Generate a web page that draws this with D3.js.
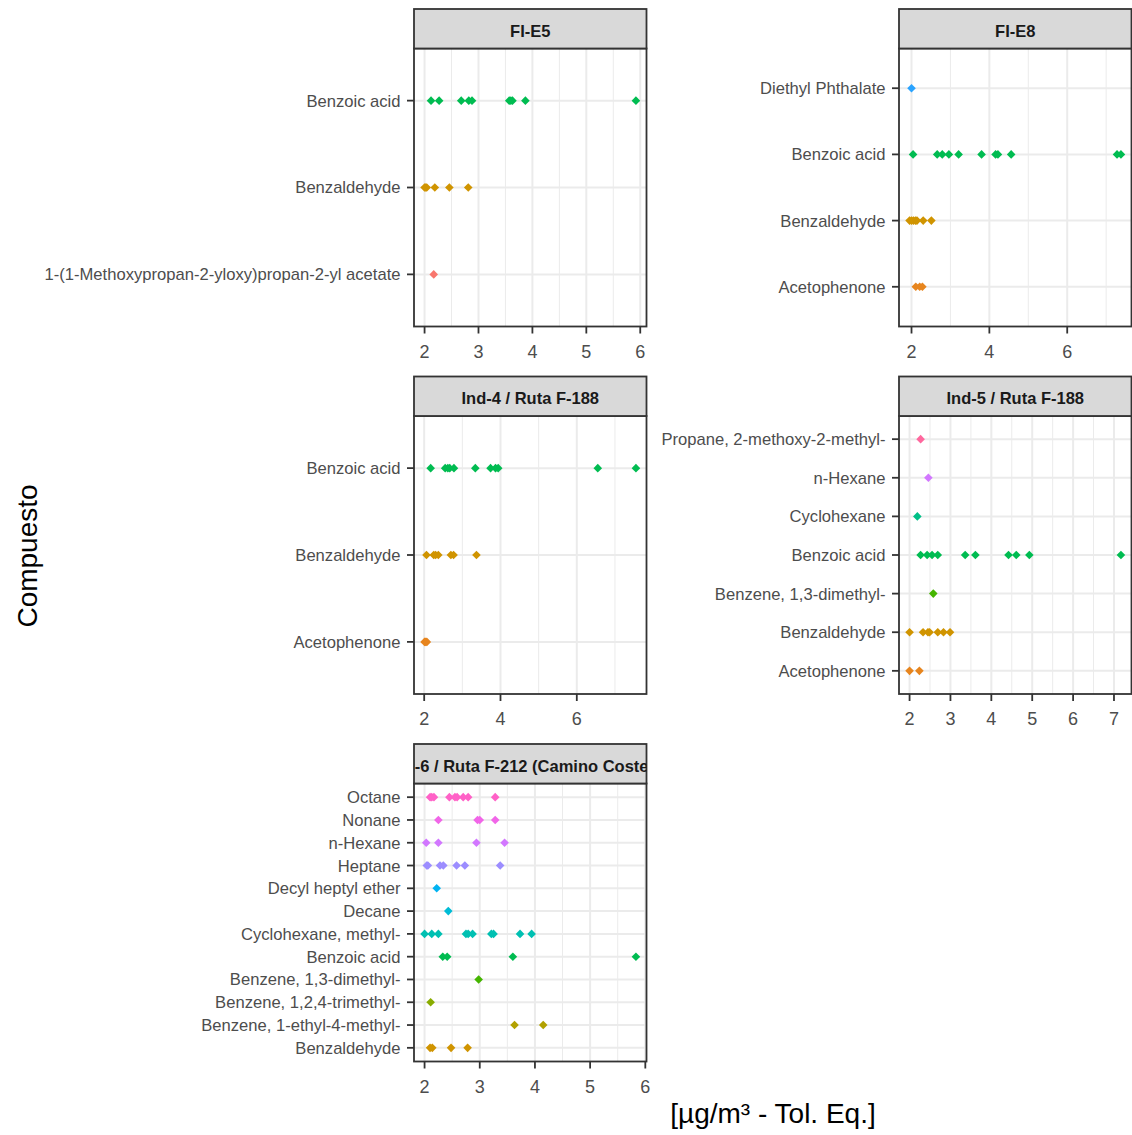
<!DOCTYPE html>
<html>
<head>
<meta charset="utf-8">
<script src="https://cdn.jsdelivr.net/npm/d3@7"></script>
<style>
  body { margin: 0; background: #fff; }
  svg { display: block; font-family: "Liberation Sans", Arial, sans-serif; }
</style>
</head>
<body>
<svg id="chart" width="1132" height="1135"></svg>
<script>
// all compounds, in the order ggplot assigns the hue palette
const compounds = [
  '1-(1-Methoxypropan-2-yloxy)propan-2-yl acetate', 'Acetophenone', 'Benzaldehyde',
  'Benzene, 1-ethyl-4-methyl-', 'Benzene, 1,2,4-trimethyl-', 'Benzene, 1,3-dimethyl-',
  'Benzoic acid', 'Cyclohexane', 'Cyclohexane, methyl-', 'Decane', 'Decyl heptyl ether',
  'Diethyl Phthalate', 'Heptane', 'n-Hexane', 'Nonane', 'Octane', 'Propane, 2-methoxy-2-methyl-'
];

const panelNames = ['FI-E5', 'FI-E8', 'Ind-4 / Ruta F-188', 'Ind-5 / Ruta F-188', 'Ind-6 / Ruta F-212 (Camino Costero)'];

// rows listed top to bottom as drawn
const fiE5 = [
  ['Benzoic acid', [2.12, 2.27, 2.68, 2.82, 2.88, 3.57, 3.6, 3.63, 3.87, 5.92]],
  ['Benzaldehyde', [2.0, 2.02, 2.04, 2.19, 2.46, 2.81]],
  ['1-(1-Methoxypropan-2-yloxy)propan-2-yl acetate', [2.17]]
];
const fiE8 = [
  ['Diethyl Phthalate', [2.0]],
  ['Benzoic acid', [2.04, 2.66, 2.79, 2.96, 3.21, 3.8, 4.16, 4.22, 4.56, 7.28, 7.38]],
  ['Benzaldehyde', [1.95, 2.0, 2.05, 2.1, 2.14, 2.3, 2.51]],
  ['Acetophenone', [2.11, 2.21, 2.28]]
];
const ind4 = [
  ['Benzoic acid', [2.17, 2.55, 2.62, 2.67, 2.78, 3.34, 3.74, 3.87, 3.94, 6.55, 7.55]],
  ['Benzaldehyde', [2.06, 2.25, 2.3, 2.37, 2.7, 2.77, 3.37]],
  ['Acetophenone', [2.01, 2.04, 2.07]]
];
const ind5 = [
  ['Propane, 2-methoxy-2-methyl-', [2.27]],
  ['n-Hexane', [2.46]],
  ['Cyclohexane', [2.19]],
  ['Benzoic acid', [2.27, 2.43, 2.55, 2.69, 3.36, 3.61, 4.42, 4.61, 4.93, 7.17]],
  ['Benzene, 1,3-dimethyl-', [2.58]],
  ['Benzaldehyde', [2.0, 2.33, 2.45, 2.49, 2.69, 2.83, 2.99]],
  ['Acetophenone', [2.0, 2.24]]
];
const ind6 = [
  ['Octane', [2.1, 2.13, 2.17, 2.45, 2.55, 2.59, 2.7, 2.79, 3.28]],
  ['Nonane', [2.25, 2.96, 3.0, 3.28]],
  ['n-Hexane', [2.03, 2.25, 2.94, 3.45]],
  ['Heptane', [2.04, 2.06, 2.28, 2.34, 2.58, 2.73, 3.37]],
  ['Decyl heptyl ether', [2.22]],
  ['Decane', [2.43]],
  ['Cyclohexane, methyl-', [2.0, 2.13, 2.25, 2.75, 2.79, 2.87, 3.21, 3.25, 3.73, 3.94]],
  ['Benzoic acid', [2.33, 2.41, 3.6, 5.83]],
  ['Benzene, 1,3-dimethyl-', [2.98]],
  ['Benzene, 1,2,4-trimethyl-', [2.11]],
  ['Benzene, 1-ethyl-4-methyl-', [3.63, 4.15]],
  ['Benzaldehyde', [2.1, 2.14, 2.48, 2.78]]
];

const fiE5Ticks = [2, 3, 4, 5, 6];
const fiE8Ticks = [2, 4, 6];
const ind4Ticks = [2, 4, 6];
const ind5Ticks = [2, 3, 4, 5, 6, 7];
const ind6Ticks = [2, 3, 4, 5, 6];

const xTitle = '[µg/m³ - Tol. Eq.]';
const yTitle = 'Compuesto';

// R's hcl() (polar CIE-Luv) -> hex, like scales::hue_pal
function hclLuv(h, c, l) {
  const hr = h * Math.PI / 180;
  const U = c * Math.cos(hr), V = c * Math.sin(hr);
  const Xn = 95.047, Yn = 100, Zn = 108.883;
  const den = Xn + 15 * Yn + 3 * Zn;
  const un = 4 * Xn / den, vn = 9 * Yn / den;
  const Y = Yn * (l > 8 ? Math.pow((l + 16) / 116, 3) : l / 903.3);
  const u = U / (13 * l) + un, v = V / (13 * l) + vn;
  const X = 9 * Y * u / (4 * v);
  const Z = 3 * Y / v - 5 * Y - X / 3;
  const x = X / 100, y = Y / 100, z = Z / 100;
  const lin = [
    3.240479 * x - 1.537150 * y - 0.498535 * z,
    -0.969256 * x + 1.875992 * y + 0.041556 * z,
    0.055648 * x - 0.204043 * y + 1.057311 * z
  ];
  const g = lin.map(t => {
    const s = t <= 0.0031308 ? 12.92 * t : 1.055 * Math.pow(t, 1 / 2.4) - 0.055;
    return Math.round(Math.max(0, Math.min(1, s)) * 255);
  });
  return d3.rgb(g[0], g[1], g[2]).formatHex();
}

const n = compounds.length;
const color = d3.scaleOrdinal()
  .domain(compounds)
  .range(compounds.map((_, i) => hclLuv(15 + i * 360 / n, 100, 65)));

const panels = [
  { name: panelNames[0], rows: fiE5, ticks: fiE5Ticks, col: 0, row: 0 },
  { name: panelNames[1], rows: fiE8, ticks: fiE8Ticks, col: 1, row: 0 },
  { name: panelNames[2], rows: ind4, ticks: ind4Ticks, col: 0, row: 1 },
  { name: panelNames[3], rows: ind5, ticks: ind5Ticks, col: 1, row: 1 },
  { name: panelNames[4], rows: ind6, ticks: ind6Ticks, col: 0, row: 2 }
];

const colX = [414, 899];
const rowY = [9, 376.5, 744];
const panelW = 232.5;
const stripH = 39.5;
const plotH = 278;
const tickLen = 7;
const dark = '#333333';
const grid = '#EBEBEB';

const svg = d3.select('#chart');
const defs = svg.append('defs');

const diamond = r => `M0,${-r}L${r},0L0,${r}L${-r},0Z`;

panels.forEach((p, pi) => {
  const left = colX[p.col];
  const top = rowY[p.row] + stripH;
  const right = left + panelW;
  const bottom = top + plotH;

  const all = p.rows.flatMap(r => r[1]);
  const [lo, hi] = d3.extent(all);
  const pad = (hi - lo) * 0.05;
  const x = d3.scaleLinear().domain([lo - pad, hi + pad]).range([left, right]);
  const y = d3.scalePoint()
    .domain(p.rows.map(r => r[0]))
    .range([top, bottom])
    .padding(0.6);

  const g = svg.append('g').attr('class', 'panel');

  // minor grid: midpoints of the (extended) major breaks
  const step = p.ticks[1] - p.ticks[0];
  const ext = [p.ticks[0] - step, ...p.ticks, p.ticks[p.ticks.length - 1] + step];
  const minor = d3.pairs(ext).map(([a, b]) => (a + b) / 2)
    .filter(v => v > x.domain()[0] && v < x.domain()[1]);

  g.selectAll('line.minor').data(minor).join('line')
    .attr('class', 'minor')
    .attr('x1', d => x(d)).attr('x2', d => x(d))
    .attr('y1', top).attr('y2', bottom)
    .attr('stroke', grid).attr('stroke-width', 1);

  g.selectAll('line.vmajor').data(p.ticks).join('line')
    .attr('class', 'vmajor')
    .attr('x1', d => x(d)).attr('x2', d => x(d))
    .attr('y1', top).attr('y2', bottom)
    .attr('stroke', grid).attr('stroke-width', 2);

  g.selectAll('line.hmajor').data(y.domain()).join('line')
    .attr('class', 'hmajor')
    .attr('x1', left).attr('x2', right)
    .attr('y1', d => y(d)).attr('y2', d => y(d))
    .attr('stroke', grid).attr('stroke-width', 2);

  // points
  const pts = p.rows.flatMap(([c, vals]) => vals.map(v => ({ c, v })));
  g.selectAll('path.pt').data(pts).join('path')
    .attr('class', 'pt')
    .attr('d', diamond(4.3))
    .attr('transform', d => `translate(${x(d.v)},${y(d.c)})`)
    .attr('fill', d => color(d.c));

  // panel border
  g.append('rect')
    .attr('x', left).attr('y', top)
    .attr('width', panelW).attr('height', plotH)
    .attr('fill', 'none').attr('stroke', dark).attr('stroke-width', 1.8);

  // y axis
  const ya = g.append('g');
  ya.selectAll('line').data(y.domain()).join('line')
    .attr('x1', left - tickLen).attr('x2', left)
    .attr('y1', d => y(d)).attr('y2', d => y(d))
    .attr('stroke', dark).attr('stroke-width', 1.8);
  ya.selectAll('text').data(y.domain()).join('text')
    .attr('x', left - tickLen - 6.5)
    .attr('y', d => y(d))
    .attr('dy', '0.36em')
    .attr('text-anchor', 'end')
    .attr('font-size', 16.6)
    .attr('fill', '#4D4D4D')
    .text(d => d);

  // x axis
  const xa = g.append('g');
  xa.selectAll('line').data(p.ticks).join('line')
    .attr('x1', d => x(d)).attr('x2', d => x(d))
    .attr('y1', bottom).attr('y2', bottom + tickLen)
    .attr('stroke', dark).attr('stroke-width', 1.8);
  xa.selectAll('text').data(p.ticks).join('text')
    .attr('x', d => x(d))
    .attr('y', bottom + 31)
    .attr('text-anchor', 'middle')
    .attr('font-size', 18)
    .attr('fill', '#4D4D4D')
    .text(d => d);

  // strip
  const sy = rowY[p.row];
  defs.append('clipPath').attr('id', 'strip' + pi)
    .append('rect').attr('x', left).attr('y', sy).attr('width', panelW).attr('height', stripH);
  g.append('rect')
    .attr('x', left).attr('y', sy)
    .attr('width', panelW).attr('height', stripH)
    .attr('fill', '#D9D9D9').attr('stroke', dark).attr('stroke-width', 1.8);
  g.append('text')
    .attr('clip-path', `url(#strip${pi})`)
    .attr('x', left + panelW / 2)
    .attr('y', sy + stripH / 2 + 2)
    .attr('dy', '0.35em')
    .attr('text-anchor', 'middle')
    .attr('font-size', 16.5)
    .attr('font-weight', 'bold')
    .attr('fill', '#1A1A1A')
    .text(p.name);
});

// axis titles
svg.append('text')
  .attr('x', 773).attr('y', 1123)
  .attr('text-anchor', 'middle')
  .attr('font-size', 28)
  .attr('fill', '#000')
  .text(xTitle);

svg.append('text')
  .attr('transform', 'translate(37,556) rotate(-90)')
  .attr('text-anchor', 'middle')
  .attr('font-size', 28)
  .attr('fill', '#000')
  .text(yTitle);
</script>
</body>
</html>
